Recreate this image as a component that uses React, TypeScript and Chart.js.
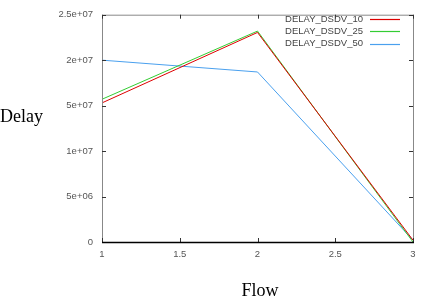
import React, { useEffect, useRef } from "react";
import { Chart, registerables } from "chart.js";

Chart.register(...registerables);

const flows = [1, 2, 3];
const delay10 = [1.53e7, 2.305e7, 0.02e7];
const delay25 = [1.57e7, 2.32e7, 0.0e7];
const delay50 = [2.0e7, 1.87e7, 0.02e7];
const seriesNames = ["DELAY_DSDV_10", "DELAY_DSDV_25", "DELAY_DSDV_50"];
const seriesColors = ["#dd0000", "#33cc33", "#4aa0ee"];
const yTickValues = [0, 5e6, 1e7, 1.5e7, 2e7, 2.5e7];
const yTickLabels = ["0", "5e+06", "1e+07", "5e+07", "2e+07", "2.5e+07"];
const xTickValues = [1, 1.5, 2, 2.5, 3];
const xTickLabels = ["1", "1.5", "2", "2.5", "3"];

const tickFont = { family: "Liberation Sans", size: 9.5 };

const framePlugin = {
  id: "frame",
  afterDraw(chart: any) {
    const ctx = chart.ctx;
    const { left, right, top, bottom } = chart.chartArea;
    const xs = chart.scales.x;
    const ys = chart.scales.y;
    ctx.save();
    ctx.lineWidth = 1;
    ctx.strokeStyle = "#888888";
    ctx.beginPath();
    ctx.moveTo(left + 0.5, bottom);
    ctx.lineTo(left + 0.5, top + 0.5);
    ctx.lineTo(right + 0.5, top + 0.5);
    ctx.lineTo(right + 0.5, bottom);
    ctx.stroke();
    // ticks
    ctx.strokeStyle = "#333333";
    ctx.beginPath();
    xTickValues.forEach((v) => {
      const px = Math.round(xs.getPixelForValue(v)) + 0.5;
      ctx.moveTo(px, bottom);
      ctx.lineTo(px, bottom - 4);
      ctx.moveTo(px, top);
      ctx.lineTo(px, top + 4);
    });
    yTickValues.forEach((v) => {
      const py = Math.round(ys.getPixelForValue(v)) + 0.5;
      ctx.moveTo(left, py);
      ctx.lineTo(left + 4, py);
      ctx.moveTo(right, py);
      ctx.lineTo(right - 4, py);
    });
    ctx.stroke();
    ctx.strokeStyle = "#000000";
    ctx.lineWidth = 1.5;
    ctx.beginPath();
    ctx.moveTo(left, bottom + 0.5);
    ctx.lineTo(right + 1, bottom + 0.5);
    ctx.stroke();

    // legend
    ctx.font = "9.5px 'Liberation Sans'";
    ctx.textAlign = "right";
    ctx.textBaseline = "middle";
    seriesNames.forEach((name, i) => {
      const y = 19 + i * 12.3;
      ctx.fillStyle = "#444444";
      ctx.fillText(name, 363, y);
      ctx.strokeStyle = seriesColors[i];
      ctx.lineWidth = 1.2;
      ctx.beginPath();
      ctx.moveTo(370, Math.round(y) + 0.5);
      ctx.lineTo(400, Math.round(y) + 0.5);
      ctx.stroke();
    });

    // axis titles
    ctx.fillStyle = "#000000";
    ctx.font = "18px 'Liberation Serif'";
    ctx.textBaseline = "alphabetic";
    ctx.textAlign = "left";
    ctx.fillText("Delay", 0, 122);
    ctx.textAlign = "center";
    ctx.fillText("Flow", 260, 296);
    ctx.restore();
  },
};

export default function App() {
  const ref = useRef<HTMLCanvasElement>(null);
  useEffect(() => {
    document.body.style.margin = "0";
    const mk = (vals: number[]) => flows.map((f, i) => ({ x: f, y: vals[i] }));
    const datasets = [delay10, delay25, delay50].map((vals, i) => ({
      label: seriesNames[i],
      data: mk(vals),
      borderColor: seriesColors[i],
      backgroundColor: seriesColors[i],
      borderWidth: 1,
      pointRadius: 0,
      tension: 0,
    }));
    const chart = new Chart(ref.current!, {
      type: "line",
      data: { datasets },
      options: {
        animation: false,
        responsive: false,
        layout: { padding: { left: 0, right: 19, top: 11, bottom: 0 } },
        plugins: { legend: { display: false }, tooltip: { enabled: false } },
        scales: {
          x: {
            type: "linear",
            min: 1,
            max: 3,
            border: { display: false },
            grid: { display: false, drawTicks: false },
            afterFit: (s: any) => {
              s.height = 55;
            },
            afterBuildTicks: (s: any) => {
              s.ticks = xTickValues.map((v) => ({ value: v }));
            },
            ticks: {
              padding: 7,
              color: "#555555",
              font: tickFont,
              maxRotation: 0,
              callback: (v: any) => {
                const i = xTickValues.indexOf(Number(v));
                return i >= 0 ? xTickLabels[i] : "";
              },
            },
          },
          y: {
            type: "linear",
            min: 0,
            max: 2.5e7,
            border: { display: false },
            grid: { display: false, drawTicks: false },
            afterFit: (s: any) => {
              s.width = 102;
            },
            afterBuildTicks: (s: any) => {
              s.ticks = yTickValues.map((v) => ({ value: v }));
            },
            ticks: {
              padding: 9,
              color: "#555555",
              font: tickFont,
              callback: (v: any) => {
                const i = yTickValues.indexOf(Number(v));
                return i >= 0 ? yTickLabels[i] : "";
              },
            },
          },
        },
      },
      plugins: [framePlugin],
    });
    return () => chart.destroy();
  }, []);
  return (
    <canvas
      ref={ref}
      width={432}
      height={297}
      style={{ display: "block", width: 432, height: 297, background: "#fff" }}
    />
  );
}
